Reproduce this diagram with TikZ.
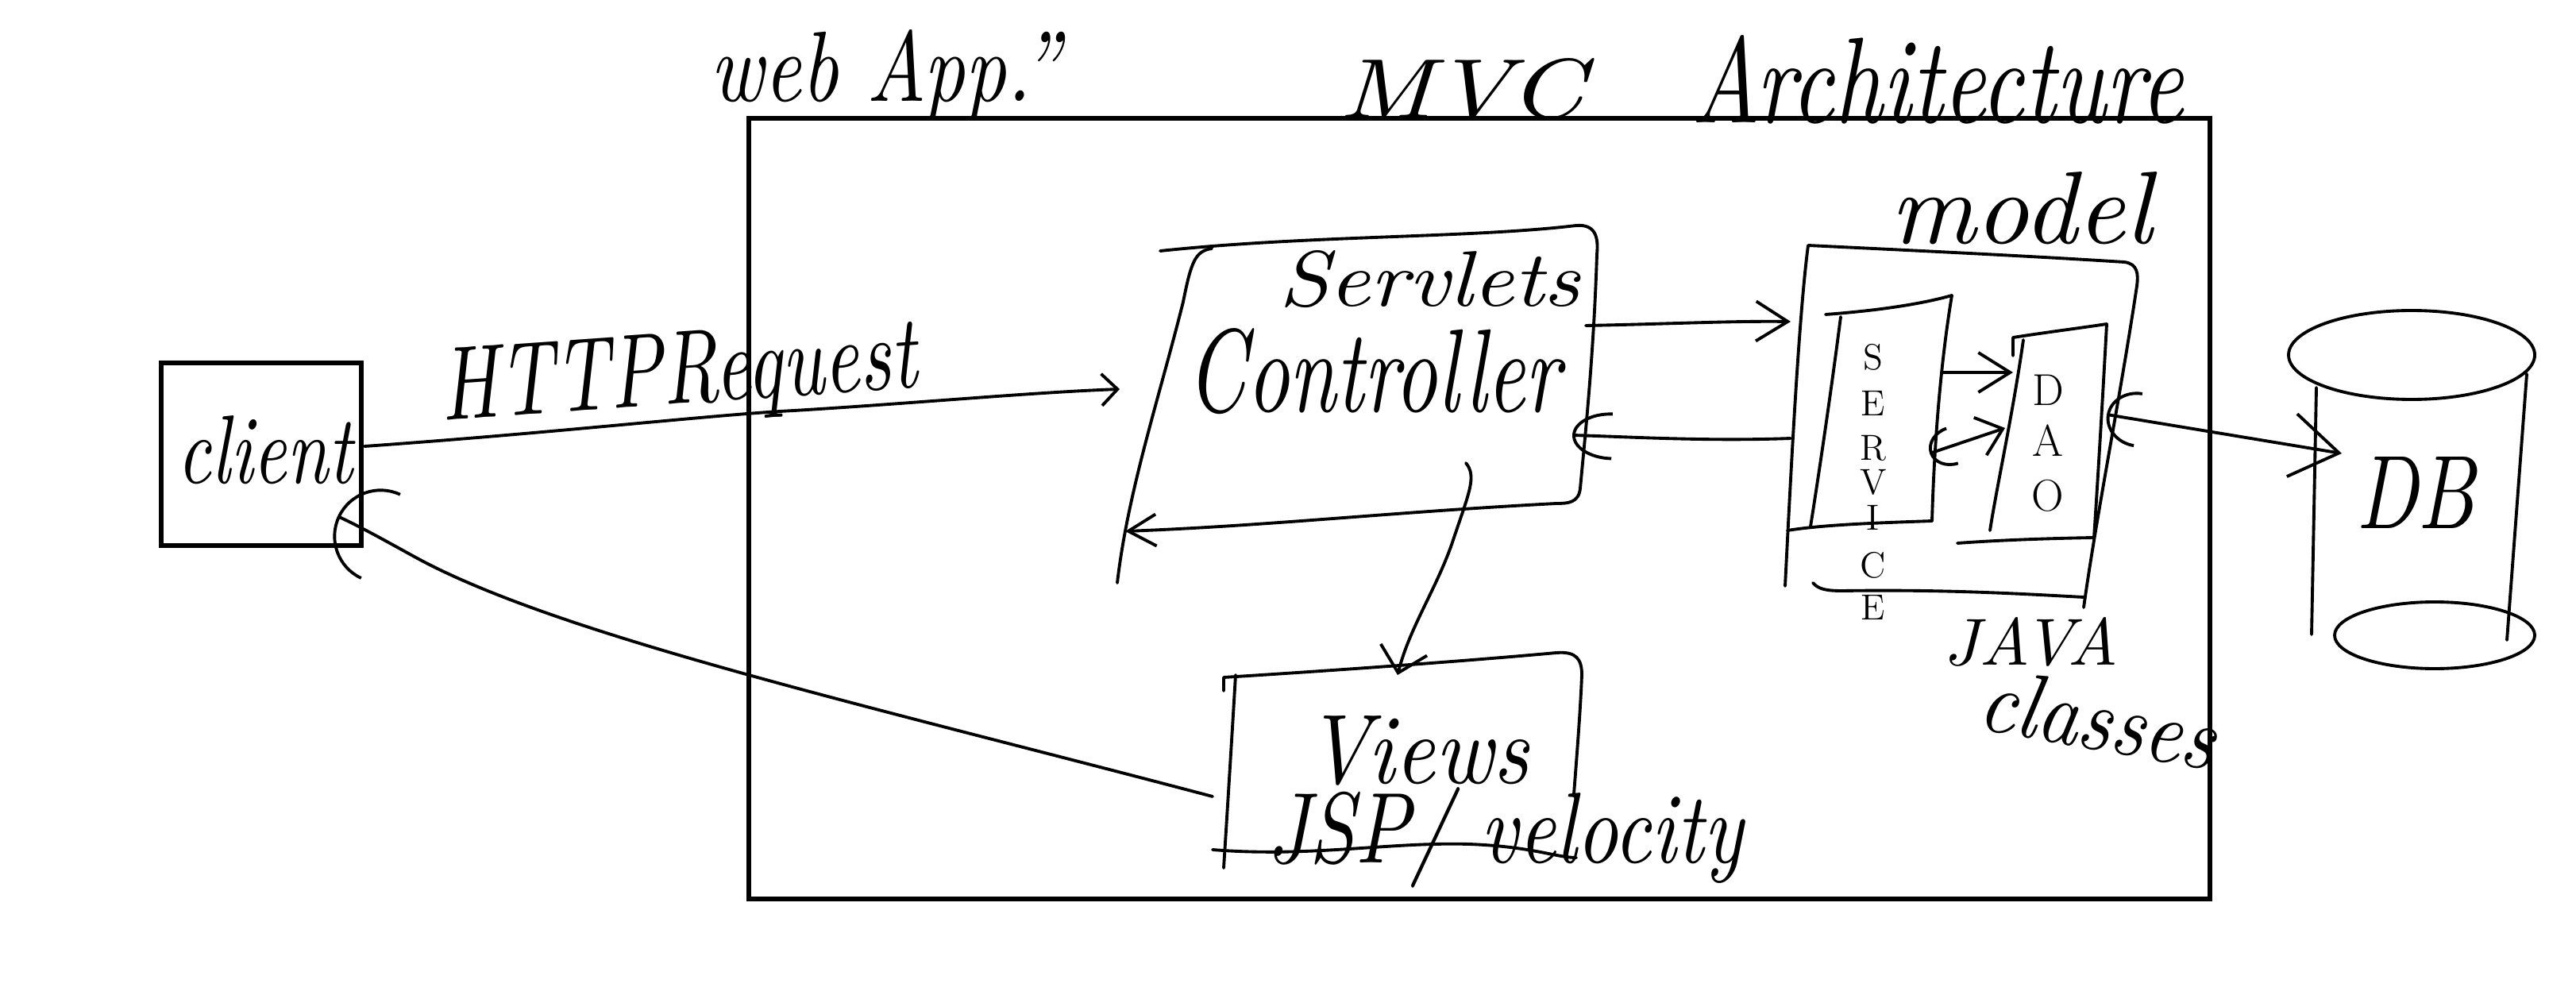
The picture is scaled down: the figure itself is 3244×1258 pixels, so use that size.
\documentclass[tikz,border=0pt]{standalone}
\usetikzlibrary{arrows.meta}
\usepackage{graphicx}
\newcommand{\hw}[3]{\resizebox{#1}{#2}{\itshape #3}}
\begin{document}
\begin{tikzpicture}[x=0.1mm,y=-0.1mm,
  ink/.style={line width=1.1pt,line cap=round,line join=round},
  frame/.style={line width=1.9pt},
  lbl/.style={inner sep=0pt,outer sep=0pt},
  letter/.style={inner sep=0pt,font=\fontsize{13}{13}\selectfont},
  tipS/.style={-{Straight Barb[length=2mm,width=4mm]}},
  tipM/.style={-{Straight Barb[length=4mm,width=5mm]}},
  tipL/.style={-{Straight Barb[length=6mm,width=8mm]}}]
\fill[white] (0,0) rectangle (3244,1258);
\useasboundingbox (0,0) rectangle (3244,1258);

% ---- titles ----
\node[lbl] (webapp) at (1115,95) {\hw{44mm}{9mm}{web App.''}};
\node[lbl] (mvc) at (1840,112) {\hw{31mm}{7.5mm}{MVC}};
\node[lbl] (arch) at (2440,100) {\hw{62mm}{11mm}{Architecture}};

% ---- outer frame and client ----
\draw[frame] (943,149) rectangle (2783,1132);
\draw[frame] (203,457) rectangle (455,687);
\node[lbl] (client) at (334,567) {\hw{22mm}{8.5mm}{client}};
\coordinate (clientR) at (459,562);
\coordinate (clientIn) at (425,650);

% ---- controller ----
\draw[ink] (1526,313) .. controls (1505,316) and (1500,330) .. (1490,380)
  .. controls (1460,500) and (1420,620) .. (1407,734);
\coordinate (ctrlBL) at (1417,669);
\draw[ink,-{Straight Barb[length=3.5mm,width=4mm]}] (1461,316)
  .. controls (1650,296) and (1850,300) .. (1985,284)
  .. controls (2010,282) and (2013,300) .. (2011,320)
  .. controls (2007,450) and (1995,560) .. (1990,615)
  .. controls (1988,633) and (1975,634) .. (1960,634)
  .. controls (1750,645) and (1600,662) .. (ctrlBL);
\node[lbl] (servlets) at (1800,352) {\hw{38mm}{7mm}{Servlets}};
\node[lbl] (controller) at (1730,468) {\hw{47mm}{10.5mm}{Controller}};
\coordinate (ctrlR1) at (1997,410);
\coordinate (ctrlR2) at (1980,548);
\coordinate (ctrlB) at (1846,583);

% ---- HTTP request ----
\coordinate (ctrlL) at (1410,490);
\draw[ink,tipS] (clientR) .. controls (700,545) and (900,522) .. (1000,517)
  .. controls (1150,508) and (1300,494) .. (ctrlL);
\node[lbl,rotate=4] (http) at (855,476) {\hw{60mm}{9mm}{HTTPRequest}};

% ---- model ----
\draw[ink] (2248,738) .. controls (2255,600) and (2265,400) .. (2277,309)
  .. controls (2400,315) and (2550,322) .. (2675,330)
  .. controls (2692,332) and (2693,345) .. (2691,360)
  .. controls (2670,500) and (2640,650) .. (2624,765);
\draw[ink] (2283,734) .. controls (2290,742) and (2300,744) .. (2320,744)
  .. controls (2450,742) and (2550,748) .. (2624,752);
\node[lbl] (model) at (2545,262) {\hw{33mm}{9mm}{model}};
\coordinate (modelL1) at (2255,405);
\coordinate (modelL2) at (2255,552);
\coordinate (modelR) at (2653,522);

% service box
\draw[ink] (2299,396) .. controls (2380,390) and (2430,380) .. (2458,372);
\draw[ink] (2458,372) .. controls (2445,450) and (2436,550) .. (2433,656);
\draw[ink] (2433,656) .. controls (2380,658) and (2300,660) .. (2251,668);
\draw[ink] (2318,399) .. controls (2305,500) and (2290,600) .. (2280,663);
\foreach \l/\y [count=\i] in {S/450,E/508,R/564,V/607,I/652,C/712,E/765}
  \node[letter] (svc\i) at (2359,\y) {\l};
\coordinate (svcR1) at (2446,469);
\coordinate (svcR2) at (2430,571);

% DAO box
\draw[ink] (2535,448) -- (2535,425) .. controls (2580,418) and (2620,413) .. (2653,408);
\draw[ink] (2653,408) .. controls (2648,500) and (2642,600) .. (2637,677);
\draw[ink] (2637,677) .. controls (2580,678) and (2520,680) .. (2465,684);
\draw[ink] (2548,428) .. controls (2535,520) and (2515,610) .. (2506,668);
\node[letter,font=\fontsize{16}{16}\selectfont] (daoD) at (2579,491) {D};
\node[letter,font=\fontsize{16}{16}\selectfont] (daoA) at (2579,555) {A};
\node[letter,font=\fontsize{16}{16}\selectfont] (daoO) at (2579,624) {O};
\coordinate (daoL1) at (2535,469);
\coordinate (daoL2) at (2525,539);

\draw[ink,tipM] (svcR1) -- (daoL1);
\draw[ink,{Arc Barb[length=3mm,width=5mm]}-{Straight Barb[length=3mm,width=5mm]}] (svcR2) -- (daoL2);

% ---- controller <-> model ----
\draw[ink,tipM] (ctrlR1) .. controls (2100,408) and (2180,404) .. (modelL1);
\draw[ink,-{Arc Barb[length=5mm,width=6mm]}] (modelL2) .. controls (2150,556) and (2050,550) .. (ctrlR2);

% ---- DB ----
\draw[ink] (3037,447) ellipse [x radius=15.5mm, y radius=5.6mm];
\draw[ink] (3066,800) ellipse [x radius=12.6mm, y radius=4.2mm];
\draw[ink] (2917,488) -- (2911,799);
\draw[ink] (3182,471) -- (3157,806);
\node[lbl] (db) at (3042,620) {\hw{15mm}{9mm}{DB}};
\coordinate (dbL) at (2949,571);
\draw[ink,{Arc Barb[length=4mm,width=7mm]}-{Straight Barb[length=6mm,width=8mm]}] (modelR) -- (dbL);

\node[lbl] (java) at (2557,808) {\hw{22mm}{6mm}{JAVA}};
\node[lbl,rotate=-10] (classes) at (2643,905) {\hw{30mm}{8mm}{classes}};

% ---- views ----
\draw[ink] (1541,870) -- (1541,853) .. controls (1700,843) and (1850,832) .. (1960,822)
  .. controls (1985,820) and (1992,830) .. (1992,850)
  .. controls (1990,900) and (1985,960) .. (1982,1000);
\draw[ink] (1556,850) .. controls (1550,950) and (1545,1030) .. (1541,1093);
\draw[ink] (1527,1070) .. controls (1650,1080) and (1750,1060) .. (1850,1063)
  .. controls (1930,1066) and (1960,1080) .. (1985,1080);
\node[lbl] (views) at (1785,945) {\hw{28mm}{8.5mm}{Views}};
\node[lbl] (jsp) at (1895,1055) {\hw{60mm}{9.5mm}{JSP/ velocity}};
\coordinate (viewsT) at (1760,850);
\coordinate (viewsL) at (1527,1003);

\draw[ink,-{Straight Barb[length=3mm,width=6mm]}] (ctrlB) .. controls (1860,600) and (1850,620) .. (1830,680)
  .. controls (1810,740) and (1775,790) .. (viewsT);

% ---- views -> client ----
\draw[ink,-{Arc Barb[length=6mm,width=12mm]}] (viewsL) .. controls (1100,890) and (700,800) .. (520,700)
  .. controls (480,678) and (455,664) .. (clientIn);
\end{tikzpicture}
\end{document}
